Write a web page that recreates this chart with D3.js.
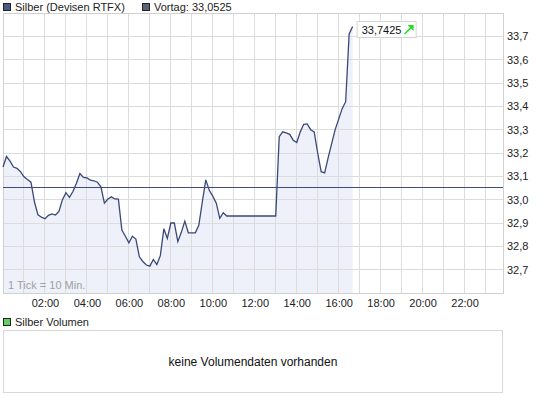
<!DOCTYPE html>
<html><head><meta charset="utf-8">
<script src="https://cdn.jsdelivr.net/npm/d3@7/dist/d3.min.js"></script>
<style>
body{margin:0;background:#fff;}
svg{display:block;font-family:"Liberation Sans",Arial,sans-serif;}
</style></head><body>
<svg id="c" width="545" height="398"></svg>
<script>
// 10-minute ticks from 00:00
const prices = [
33.14,33.185,33.165,33.14,33.134,33.12,33.098,33.086,33.075,32.99,
32.935,32.925,32.918,32.933,32.939,32.934,32.95,33.0,33.03,33.01,
33.035,33.07,33.112,33.095,33.093,33.084,33.081,33.075,33.055,32.985,
33.003,33.012,33.003,33.002,32.87,32.843,32.815,32.843,32.831,32.755,
32.735,32.72,32.715,32.744,32.722,32.76,32.875,32.834,32.90,32.90,
32.82,32.86,32.908,32.858,32.858,32.858,32.89,32.99,33.085,33.04,
33.015,32.985,32.92,32.944,32.93,32.93,32.93,32.93,32.93,32.93,
32.93,32.93,32.93,32.93,32.93,32.93,32.93,32.93,32.93,33.27,
33.291,33.286,33.28,33.255,33.245,33.29,33.323,33.325,33.30,33.29,
33.2,33.12,33.115,33.18,33.24,33.3,33.345,33.39,33.42,33.71,
33.7425];
const tickMinutes = 10;
const prevClose = 33.0525;
const lastLabel = "33,7425";
const yTicks = [32.7,32.8,32.9,33.0,33.1,33.2,33.3,33.4,33.5,33.6,33.7];
const xLabelHours = [2,4,6,8,10,12,14,16,18,20,22];
const gridHours = d3.range(0,24);
const seriesName = "Silber (Devisen RTFX)";
const prevName = "Vortag: 33,0525";
const volName = "Silber Volumen";
const noVolText = "keine Volumendaten vorhanden";
const tickNote = "1 Tick = 10 Min.";

const svg = d3.select("#c");
const L=3, R=503, T=13, B=293;
const x = d3.scaleLinear().domain([0, 23*60+50]).range([L,R]);
const y = d3.scaleLinear().domain([32.6,33.8]).range([B,T]);
const fmt = v => d3.format(".1f")(v).replace(".",",");
const data = prices.map((p,i)=>({m:i*tickMinutes,p}));

// legend top
function legend(xp, yp, fill, text){
  svg.append("rect").attr("x",xp+0.5).attr("y",yp+0.5).attr("width",7).attr("height",7)
    .attr("fill",fill).attr("stroke","#222");
  svg.append("text").attr("x",xp+12).attr("y",yp+8).attr("font-size",11).attr("fill","#222").text(text);
}
legend(3,3,"#4b5a82",seriesName);
legend(142,3,"#5a6275",prevName);

// area
svg.append("path").datum(data)
  .attr("d", d3.area().x(d=>x(d.m)).y0(B).y1(d=>y(d.p)))
  .attr("fill","#eef1fa");

// grid
const g = svg.append("g").attr("stroke","#dcdcdc").attr("stroke-width",1).attr("shape-rendering","crispEdges");
gridHours.forEach(h=>{ g.append("line").attr("x1",x(h*60)).attr("x2",x(h*60)).attr("y1",T).attr("y2",B); });
yTicks.forEach(v=>{ g.append("line").attr("x1",L).attr("x2",R).attr("y1",y(v)).attr("y2",y(v)); });
svg.append("rect").attr("x",L).attr("y",T).attr("width",R-L).attr("height",B-T)
  .attr("fill","none").attr("stroke","#d0d0d0").attr("shape-rendering","crispEdges");

// axes
const ya = d3.axisRight(y).tickValues(yTicks).tickFormat(fmt).tickSize(0).tickPadding(4);
svg.append("g").attr("transform",`translate(${R},0)`).call(ya)
  .call(s=>s.select(".domain").remove())
  .selectAll("text").attr("font-size",11).attr("fill","#222").attr("font-family","'Liberation Sans',Arial,sans-serif");
const xa = d3.axisBottom(x).tickValues(xLabelHours.map(h=>h*60))
  .tickFormat(m=>d3.format("02d")(m/60)+":00").tickSize(0).tickPadding(6);
svg.append("g").attr("transform",`translate(0,${B})`).call(xa)
  .call(s=>s.select(".domain").remove())
  .selectAll("text").attr("font-size",11).attr("fill","#222").attr("font-family","'Liberation Sans',Arial,sans-serif");

// previous close
svg.append("line").attr("x1",L).attr("x2",R).attr("y1",Math.round(y(prevClose))+0.5).attr("y2",Math.round(y(prevClose))+0.5)
  .attr("stroke","#3f4c78").attr("stroke-width",1);

// price line
svg.append("path").datum(data)
  .attr("d", d3.line().x(d=>x(d.m)).y(d=>y(d.p)))
  .attr("fill","none").attr("stroke","#3a4878").attr("stroke-width",1.3);

// tick note
svg.append("text").attr("x",8).attr("y",289).attr("font-size",11).attr("fill","#a0a0a0").text(tickNote);

// last value label
const last = data[data.length-1];
const bx = x(last.m)+4, by = 21;
svg.append("rect").attr("x",bx+0.5).attr("y",by+0.5).attr("width",59).attr("height",16)
  .attr("fill","#fff").attr("stroke","#d4d4d4");
svg.append("text").attr("x",bx+5).attr("y",by+12.5).attr("font-size",11).attr("fill","#111").text(lastLabel);
const ax = bx+48, ay = by+4;
svg.append("path").attr("d",`M${ax},${ay+9} L${ax+8},${ay+1}`).attr("stroke","#22dd22").attr("stroke-width",1.6);
svg.append("path").attr("d",`M${ax+3},${ay} L${ax+9},${ay} L${ax+9},${ay+6} Z`).attr("fill","#22dd22");

// volume section
svg.append("rect").attr("x",3.5).attr("y",318.5).attr("width",7).attr("height",7)
  .attr("fill","#66cc66").attr("stroke","#222");
svg.append("text").attr("x",15).attr("y",326).attr("font-size",11).attr("fill","#222").text(volName);
svg.append("rect").attr("x",3.5).attr("y",330.5).attr("width",499).attr("height",62)
  .attr("fill","#fff").attr("stroke","#d8d8d8");
svg.append("text").attr("x",253).attr("y",366).attr("text-anchor","middle").attr("font-size",12).attr("fill","#111").text(noVolText);
</script>
</body></html>
